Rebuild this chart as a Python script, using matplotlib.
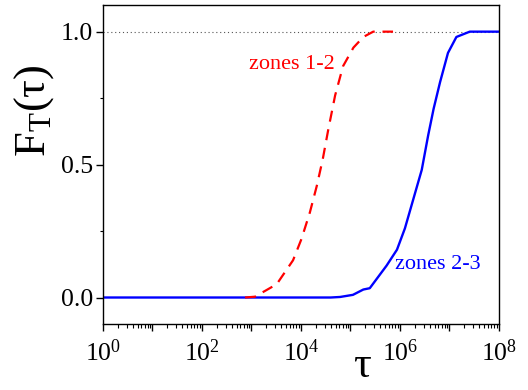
import numpy as np
import matplotlib
matplotlib.use('Agg')
import matplotlib.pyplot as plt
from matplotlib.ticker import LogLocator, FuncFormatter, NullFormatter

plt.rcParams['font.family'] = ['Liberation Serif', 'DejaVu Serif']
plt.rcParams['mathtext.fontset'] = 'custom'
plt.rcParams['mathtext.rm'] = 'Liberation Serif'
plt.rcParams['mathtext.it'] = 'Liberation Serif:italic'

# zones 1-2 (red dashed), log10(tau) vs F
red_logtau = [2.87, 3.07, 3.51, 3.84, 4.01, 4.18, 4.32, 4.44, 4.55, 4.69, 4.85, 5.06, 5.26, 5.46, 5.86]
red_F = [0.0, 0.003, 0.05, 0.14, 0.22, 0.32, 0.42, 0.52, 0.63, 0.76, 0.87, 0.94, 0.98, 1.0, 1.0]

# zones 2-3 (blue solid)
blue_logtau = [0.0, 4.6, 4.79, 5.05, 5.26, 5.39, 5.53, 5.73, 5.94, 6.10, 6.27, 6.44, 6.57, 6.68,
               6.81, 6.97, 7.14, 7.41, 8.0]
blue_F = [0.0, 0.0, 0.002, 0.01, 0.03, 0.035, 0.07, 0.12, 0.18, 0.26, 0.37, 0.48, 0.61, 0.71,
          0.81, 0.92, 0.98, 1.0, 1.0]

fig = plt.figure(figsize=(5.28, 3.9), dpi=100)
ax = fig.add_axes([0.195, 0.169, 0.75, 0.818])

ax.axhline(1.0, color='#555555', lw=0.8, ls=(0, (1, 2.5)), zorder=1)
ax.plot(10 ** np.array(red_logtau), red_F, color='#ff0000', lw=1.6, ls=(0, (5, 3.5)), zorder=3)
ax.plot(10 ** np.array(blue_logtau), blue_F, color='#0000ff', lw=1.7, zorder=2)

ax.set_xscale('log')
ax.set_xlim(1, 1e8)
ax.set_ylim(-0.1, 1.1)

ax.xaxis.set_major_locator(LogLocator(base=10, numticks=20))
ax.xaxis.set_minor_locator(LogLocator(base=10, subs=np.arange(2, 10), numticks=100))
ax.xaxis.set_major_formatter(FuncFormatter(
    lambda v, p: r'$10^{%d}$' % round(np.log10(v)) if round(np.log10(v)) % 2 == 0 else ''))
ax.xaxis.set_minor_formatter(NullFormatter())

ax.set_yticks([0.0, 0.5, 1.0])
ax.set_yticks([0.25, 0.75], minor=True)
ax.yaxis.set_major_formatter(FuncFormatter(lambda v, p: '%.1f' % v))

ax.tick_params(which='major', direction='out', length=5, width=1, labelsize=18.5)
ax.tick_params(axis='x', which='major', pad=6)
ax.tick_params(axis='y', which='major', pad=2)
ax.tick_params(which='minor', direction='out', length=3, width=0.8)
ax.tick_params(axis='y', which='minor', length=2)
for s in ax.spines.values():
    s.set_linewidth(1.0)

ax.set_xlabel('τ', fontsize=32)
ax.xaxis.set_label_coords(0.655, -0.07)
ax.set_ylabel(r'F$_\mathregular{T}$(τ)', fontsize=32)
ax.yaxis.set_label_coords(-0.118, 0.67)

ax.text(10 ** 2.95, 0.86, 'zones 1-2', color='#ff0000', fontsize=16, va='baseline')
ax.text(10 ** 5.9, 0.109, 'zones 2-3', color='#0000ff', fontsize=16, va='baseline')

fig.savefig('out.png', dpi=100)
